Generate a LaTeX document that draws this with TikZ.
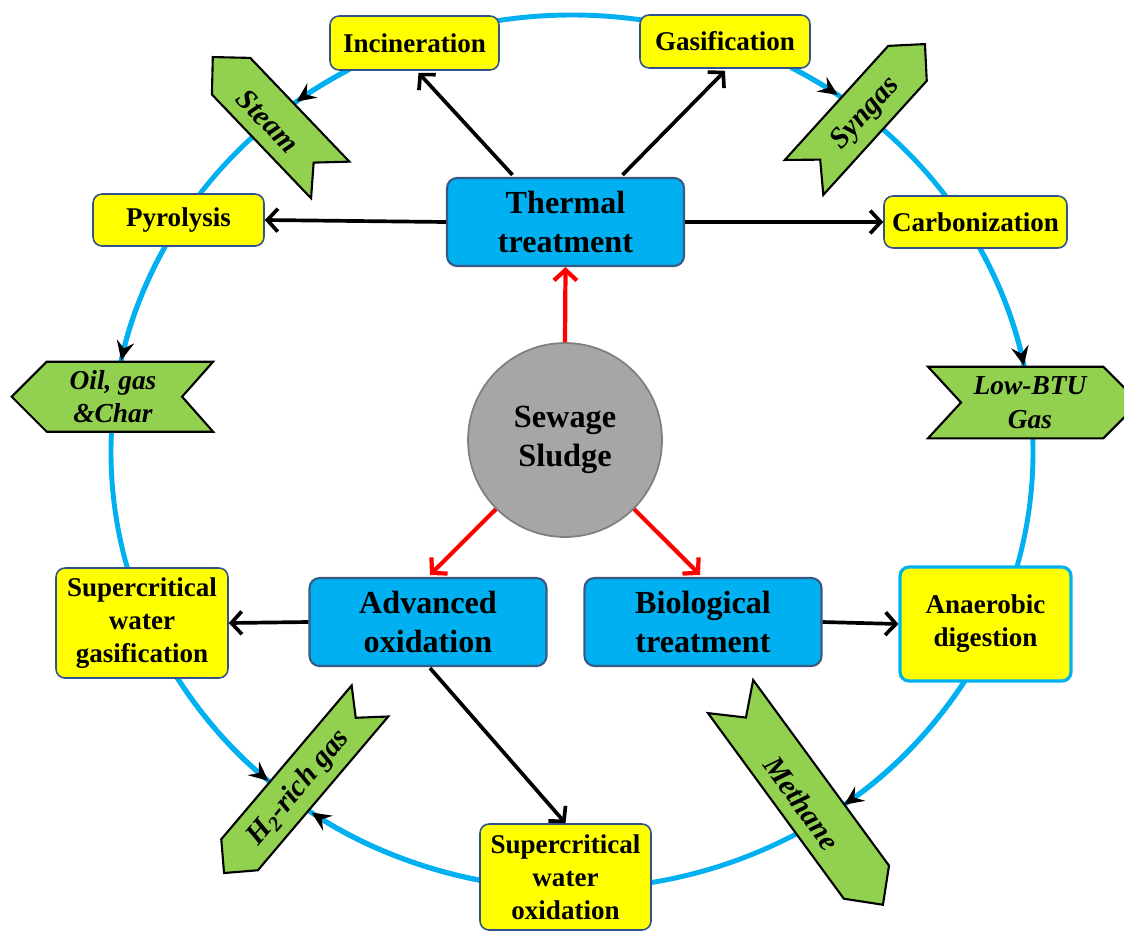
\documentclass[tikz,border=0pt]{standalone}
\usepackage{fontspec}
\setmainfont{Liberation Serif}
\usetikzlibrary{arrows.meta,calc}
\definecolor{cyanL}{RGB}{0,176,240}
\definecolor{yell}{RGB}{255,255,0}
\definecolor{ybord}{RGB}{47,82,143}
\definecolor{bbord}{RGB}{55,90,130}
\definecolor{grn}{RGB}{146,208,80}
\definecolor{gryf}{RGB}{166,166,166}
\definecolor{gryd}{RGB}{127,127,127}
\definecolor{redA}{RGB}{255,0,0}
\newcommand{\ribbonshape}[5]{%
  \begin{scope}[shift={#1}, rotate=#2]
    \draw[ribbon] (-#3,-#4) -- ({#3-#4},-#4) -- (#3,0) -- ({#3-#4},#4) -- (-#3,#4) -- ({-#3+#5},0) -- cycle;
  \end{scope}}
\newcommand{\earc}[2]{\draw[circline, circarrow] (572,452) ++(#1:461 and 437) arc[start angle=#1, end angle=#2, x radius=461, y radius=437];}
\begin{document}
\begin{tikzpicture}[x=0.02cm, y=-0.02cm,
  bluebox/.style={draw=bbord, line width=1.2pt, fill=cyanL, rounded corners=0.2cm,
    minimum width=4.74cm, minimum height=1.76cm, align=center, inner sep=2pt,
    font=\fontsize{18.3}{22}\selectfont\bfseries},
  ybox/.style={draw=ybord, line width=0.9pt, fill=yell, rounded corners=0.18cm,
    align=center, inner sep=2pt, font=\fontsize{15.4}{18.8}\selectfont\bfseries},
  sludge/.style={circle, draw=gryd, line width=1pt, fill=gryf, minimum size=3.88cm,
    align=center, inner sep=0pt, font=\fontsize{18.4}{22}\selectfont\bfseries},
  ribbon/.style={draw=black, line width=1.2pt, fill=grn, line join=miter},
  ribtext/.style={align=center, inner sep=0pt, font=\fontsize{16.8}{19}\selectfont\bfseries\itshape},
  circline/.style={draw=cyanL, line width=2.8pt},
  circarrow/.style={-{Stealth[length=11pt, width=10pt, inset=4pt, black]}},
  conn/.style={draw=black, line width=2.1pt, -{Straight Barb[length=6pt, width=13pt]}},
  redconn/.style={draw=redA, line width=2.4pt, -{Straight Barb[length=6pt, width=13pt]}}
]
\useasboundingbox (0,0) rectangle (1124,933);
\clip (0,0) rectangle (1124,933);

% big cycle
\draw[circline] (572,452) ellipse [x radius=461, y radius=437];

% ribbons
\ribbonshape{(271.5,118.5)}{133.7}{85}{26.5}{24}
\ribbonshape{(864.5,110.75)}{47.8}{90}{26}{24}
\ribbonshape{(112.4,396.7)}{180}{100.7}{35}{31}
\ribbonshape{(1033.5,402.5)}{0}{105.5}{35.8}{33}
\ribbonshape{(297,787)}{-130.3}{112.8}{24}{22}
\ribbonshape{(806.75,800.65)}{-53.8}{129}{28}{26}

\node[ribtext, rotate=-46] (steam) at (268,121) {Steam};
\node[ribtext, rotate=48] (syngas) at (866,114) {Syngas};
\node[ribtext, font=\fontsize{15.6}{19}\selectfont\bfseries\itshape] (oil) at (113,396.7) {Oil, gas\\\&Char};
\node[ribtext, font=\fontsize{15.6}{19}\selectfont\bfseries\itshape] (btu) at (1030,402.5) {Low-BTU\\Gas};
\node[ribtext, rotate=50] (h2) at (299,788) {H\textsubscript{2}-rich gas};
\node[ribtext, rotate=-54] (methane) at (802,803) {Methane};

% arrows on the cycle
\earc{-119.1}{-126.7}
\earc{-61.5}{-54.8}
\earc{-151.9}{-167.9}
\earc{-27.8}{-11.4}
\earc{148.9}{131.2}
\earc{101.5}{124.4}
\earc{31.6}{53.8}

% main nodes
\node[bluebox] (thermal) at (565.5,222) {Thermal\\treatment};
\node[bluebox] (adv) at (428,622) {Advanced\\oxidation};
\node[bluebox] (bio) at (703,622) {Biological\\treatment};
\node[sludge] (sludge) at (565,440) {Sewage\\Sludge};

\node[ybox, minimum width=3.38cm, minimum height=1.08cm] (incin) at (414.5,43) {Incineration};
\node[ybox, minimum width=3.4cm, minimum height=1.06cm] (gasif) at (725,41.5) {Gasification};
\node[ybox, minimum width=3.42cm, minimum height=1.04cm] (pyro) at (178.5,220) {Pyrolysis};
\node[ybox, minimum width=3.66cm, minimum height=1.04cm] (carb) at (975.5,222) {Carbonization};
\node[ybox, minimum width=3.44cm, minimum height=2.2cm] (scwg) at (142,623) {Supercritical\\water\\gasification};
\node[ybox, draw=cyanL, line width=1.8pt, minimum width=3.42cm, minimum height=2.28cm] (anaer) at (985.5,624) {Anaerobic\\digestion};
\node[ybox, minimum width=3.42cm, minimum height=2.12cm] (scwo) at (565.5,877) {Supercritical\\water\\oxidation};

% red connectors
\draw[redconn] (sludge.north) -- (thermal.south);
\draw[redconn] (sludge.225) -- ($(adv.north)+(2,-2)$);
\draw[redconn] (sludge.-45) -- ($(bio.north)+(-3,-2)$);

% black connectors
\draw[conn] ($(thermal.north)+(-53,-2)$) -- ($(incin.south)+(4,2)$);
\draw[conn] ($(thermal.north)+(57,-2)$) -- ($(gasif.south)+(0,2)$);
\draw[conn] (thermal.west) -- (pyro.east);
\draw[conn] (thermal.east) -- (carb.west);
\draw[conn] (adv.west) -- (scwg.east);
\draw[conn] ($(adv.south)+(2,1)$) -- (scwo.north);
\draw[conn] (bio.east) -- (anaer.west);
\end{tikzpicture}
\end{document}
